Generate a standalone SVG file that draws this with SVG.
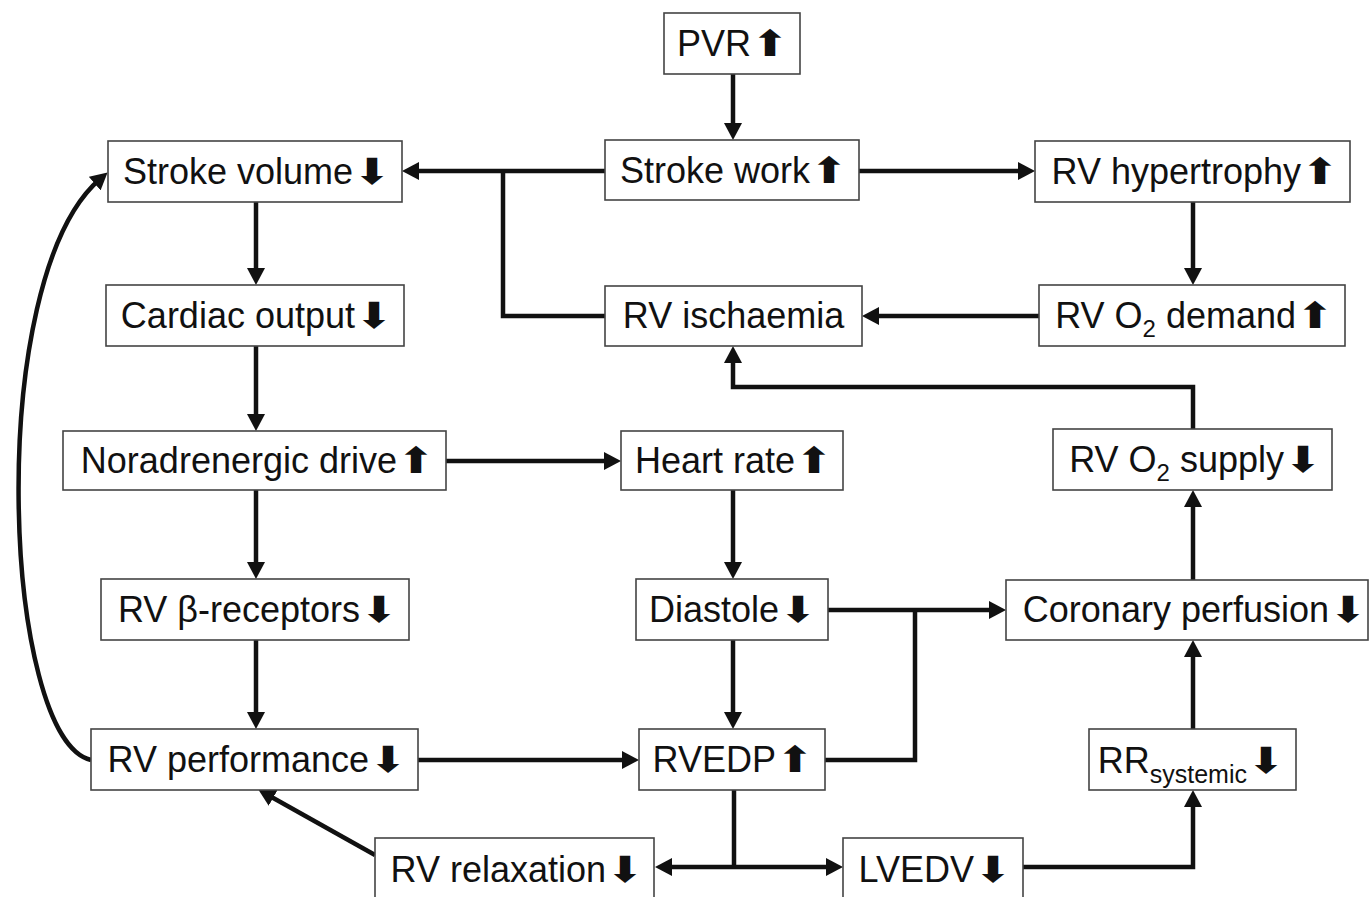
<svg xmlns="http://www.w3.org/2000/svg" width="1370" height="897" viewBox="0 0 1370 897">
<style>
.box{fill:#fff;stroke:#444;stroke-width:1.6}
.t{font-family:"Liberation Sans",Arial,sans-serif;font-size:36px;fill:#111;text-anchor:end}
.m{text-anchor:middle}
.ar{font-family:"DejaVu Sans",sans-serif;font-size:36px}
.sub{font-size:24px}
.c{fill:none;stroke:#111;stroke-width:4.5;stroke-linejoin:miter}
.a{marker-end:url(#ah)}
</style>
<defs>
<marker id="ah" markerUnits="userSpaceOnUse" markerWidth="18" markerHeight="18" refX="7" refY="9" orient="auto">
<path d="M0,0 L17,9 L0,18 z" fill="#111"/>
</marker>
</defs>
<rect width="1370" height="897" fill="#fff"/>
<g id="connectors">
<path class="c a" d="M733,74 V130"/>
<path class="c a" d="M605,171 H412"/>
<path class="c" d="M503,171 V316 H605"/>
<path class="c a" d="M859,171 H1025"/>
<path class="c a" d="M1193,202 V275"/>
<path class="c a" d="M1039,316 H872"/>
<path class="c a" d="M1193,429 V387 H733 V356"/>
<path class="c a" d="M256,202 V275"/>
<path class="c a" d="M256,346 V421"/>
<path class="c a" d="M446,461 H611"/>
<path class="c a" d="M256,490 V569"/>
<path class="c a" d="M256,640 V719"/>
<path class="c a" d="M733,490 V569"/>
<path class="c a" d="M733,640 V719"/>
<path class="c a" d="M828,610 H996"/>
<path class="c" d="M825,760 H915 V610"/>
<path class="c a" d="M418,760 H629"/>
<path class="c a" d="M1193,580 V500"/>
<path class="c a" d="M1193,729 V650"/>
<path class="c a" d="M1023,867 H1193 V800"/>
<path class="c" d="M734,790 V867"/>
<path class="c a" d="M734,867 H665"/>
<path class="c a" d="M734,867 H833"/>
<path class="c a" d="M375,855 L267,794.5"/>
<path class="c a" d="M91,760 C3,740 -17,280 100,179"/>
</g>
<g id="pvr"><rect class="box" x="664" y="13" width="136" height="61"/><text class="t" x="789" y="56">PVR<tspan class="ar" textLength="38" lengthAdjust="spacingAndGlyphs">⬆</tspan></text></g>
<g id="stroke-work"><rect class="box" x="605" y="140" width="254" height="60"/><text class="t" x="848" y="183">Stroke work<tspan class="ar" textLength="38" lengthAdjust="spacingAndGlyphs">⬆</tspan></text></g>
<g id="stroke-volume"><rect class="box" x="108" y="141" width="294" height="61"/><text class="t" x="391" y="184">Stroke volume<tspan class="ar" textLength="38" lengthAdjust="spacingAndGlyphs">⬇</tspan></text></g>
<g id="rv-hypertrophy"><rect class="box" x="1035" y="141" width="315" height="61"/><text class="t" x="1339" y="184">RV hypertrophy<tspan class="ar" textLength="38" lengthAdjust="spacingAndGlyphs">⬆</tspan></text></g>
<g id="cardiac-output"><rect class="box" x="106" y="285" width="298" height="61"/><text class="t" x="393" y="328">Cardiac output<tspan class="ar" textLength="38" lengthAdjust="spacingAndGlyphs">⬇</tspan></text></g>
<g id="rv-ischaemia"><rect class="box" x="605" y="286" width="257" height="60"/><text class="t m" x="733.5" y="328">RV ischaemia</text></g>
<g id="rv-o2-demand"><rect class="box" x="1039" y="285" width="306" height="61"/><text class="t" x="1334" y="328">RV O<tspan class="sub" dy="9">2</tspan><tspan dy="-9"> demand</tspan><tspan class="ar" textLength="38" lengthAdjust="spacingAndGlyphs">⬆</tspan></text></g>
<g id="noradrenergic-drive"><rect class="box" x="63" y="431" width="383" height="59"/><text class="t" x="435" y="473">Noradrenergic drive<tspan class="ar" textLength="38" lengthAdjust="spacingAndGlyphs">⬆</tspan></text></g>
<g id="heart-rate"><rect class="box" x="621" y="431" width="222" height="59"/><text class="t" x="833" y="473">Heart rate<tspan class="ar" textLength="38" lengthAdjust="spacingAndGlyphs">⬆</tspan></text></g>
<g id="rv-o2-supply"><rect class="box" x="1053" y="429" width="279" height="61"/><text class="t" x="1322" y="472">RV O<tspan class="sub" dy="9">2</tspan><tspan dy="-9"> supply</tspan><tspan class="ar" textLength="38" lengthAdjust="spacingAndGlyphs">⬇</tspan></text></g>
<g id="rv-beta-receptors"><rect class="box" x="101" y="579" width="308" height="61"/><text class="t" x="398" y="622">RV β-receptors<tspan class="ar" textLength="38" lengthAdjust="spacingAndGlyphs">⬇</tspan></text></g>
<g id="diastole"><rect class="box" x="636" y="579" width="192" height="61"/><text class="t" x="817" y="622">Diastole<tspan class="ar" textLength="38" lengthAdjust="spacingAndGlyphs">⬇</tspan></text></g>
<g id="coronary-perfusion"><rect class="box" x="1006" y="580" width="362" height="60"/><text class="t" x="1367" y="622">Coronary perfusion<tspan class="ar" textLength="38" lengthAdjust="spacingAndGlyphs">⬇</tspan></text></g>
<g id="rv-performance"><rect class="box" x="91" y="729" width="327" height="61"/><text class="t" x="407" y="772">RV performance<tspan class="ar" textLength="38" lengthAdjust="spacingAndGlyphs">⬇</tspan></text></g>
<g id="rvedp"><rect class="box" x="639" y="729" width="186" height="61"/><text class="t" x="814" y="772">RVEDP<tspan class="ar" textLength="38" lengthAdjust="spacingAndGlyphs">⬆</tspan></text></g>
<g id="rr-systemic"><rect class="box" x="1089" y="729" width="207" height="61"/><text class="t" x="1285" y="773">RR<tspan font-size="25" dy="10">systemic</tspan><tspan class="ar" dy="-10" textLength="38" lengthAdjust="spacingAndGlyphs">⬇</tspan></text></g>
<g id="rv-relaxation"><rect class="box" x="375" y="838" width="279" height="75"/><text class="t" x="644" y="882">RV relaxation<tspan class="ar" textLength="38" lengthAdjust="spacingAndGlyphs">⬇</tspan></text></g>
<g id="lvedv"><rect class="box" x="843" y="838" width="180" height="75"/><text class="t" x="1012" y="882">LVEDV<tspan class="ar" textLength="38" lengthAdjust="spacingAndGlyphs">⬇</tspan></text></g>
</svg>
